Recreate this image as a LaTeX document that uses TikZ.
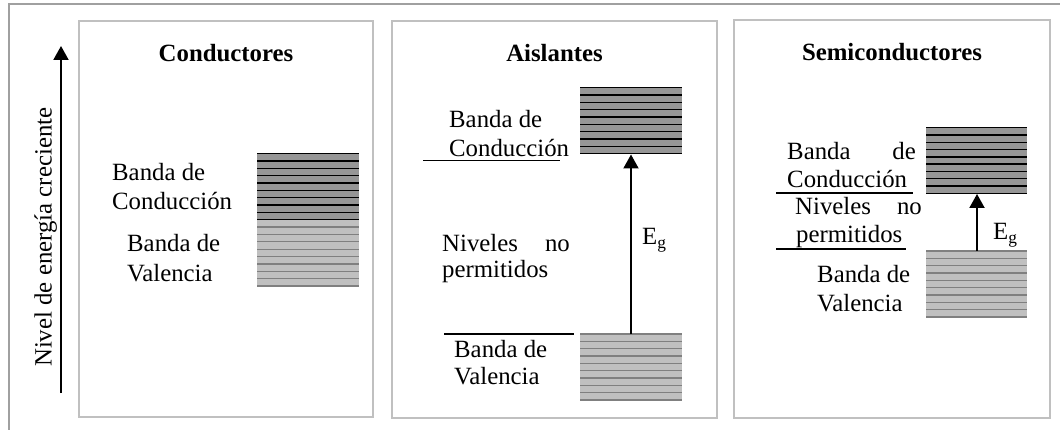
\documentclass[tikz,border=0pt]{standalone}
\usepackage{fontspec}
\setmainfont{Liberation Serif}
\usetikzlibrary{arrows.meta}
\definecolor{frameg}{HTML}{A0A0A0}
\definecolor{panelg}{HTML}{C0C0C0}
\definecolor{darkfill}{HTML}{969696}
\definecolor{lightfill}{HTML}{C0C0C0}
\definecolor{lightline}{HTML}{808080}
\tikzset{
  txt/.style={anchor=base west, inner sep=0pt, font=\fontsize{24.8}{28}\selectfont},
  txtr/.style={anchor=base east, inner sep=0pt, font=\fontsize{24.8}{28}\selectfont},
  ttl/.style={anchor=base, inner sep=0pt, font=\fontsize{24.8}{28}\selectfont\bfseries},
  panel/.style={draw=panelg, line width=1.5pt},
  uline/.style={draw=black, line width=1.3pt},
  gaparrow/.style={line width=2pt, -{Triangle[length=14pt,width=15pt]}},
}
\newcommand{\myband}[5]{% x1, x2, ytop, ybot, which (dark/light)
  \ifx d#5
    \fill[darkfill] (#1,#3) rectangle (#2,#4);
    \foreach \k in {0,...,9} \draw[black, line width=1.3pt] (#1,{#3+\k*(#4-#3)/9}) -- (#2,{#3+\k*(#4-#3)/9});
  \else
    \fill[lightfill] (#1,#3) rectangle (#2,#4);
    \foreach \k in {0,...,9} \draw[lightline, line width=1.3pt] (#1,{#3+\k*(#4-#3)/9}) -- (#2,{#3+\k*(#4-#3)/9});
  \fi
}
\begin{document}
\begin{tikzpicture}[x=1pt,y=-1pt]
\useasboundingbox (0,0) rectangle (1060,430);
% outer frame
\draw[frameg, line width=2pt] (9,432) -- (9,4.5) -- (1062,4.5);
% panels
\draw[panel] (79,21) rectangle (373,417);
\draw[panel] (392,21) rectangle (717,418);
\draw[panel] (734,20) rectangle (1050,418);
% energy axis
\coordinate (axb) at (61,393);
\coordinate (axt) at (61,46);
\draw[gaparrow] (axb) -- (axt);
\node[txt, rotate=90] (axl) at (51.7,367) {Nivel de energía creciente};

% ---------- Conductores
\node[ttl] (t1) at (226,62) {Conductores};
\myband{257}{359}{219.7}{286}{l}
\myband{257}{359}{153.7}{219.7}{d}
\coordinate (c1b) at (257,153.7);
\node[txt] (c1a) at (112,181) {Banda de};
\node[txt] (c1c) at (112,210) {Conducción};
\node[txt] (v1a) at (127,252) {Banda de};
\node[txt] (v1b) at (127,281.5) {Valencia};

% ---------- Aislantes
\node[ttl] (t2) at (554.5,62) {Aislantes};
\myband{580}{682}{87.7}{153.7}{d}
\myband{580}{682}{334}{400}{l}
\coordinate (g2b) at (631,334);
\coordinate (g2t) at (631,154.5);
\draw[gaparrow] (g2b) -- (g2t);
\node[txt] (e2) at (642,245) {E\textsubscript{g}};
\node[txt] (c2a) at (449,128) {Banda de};
\node[txt] (c2b) at (449,157) {Conducción};
\coordinate (u2a) at (423,160.7);
\coordinate (u2b) at (560,160.7);
\draw[uline] (u2a) -- (u2b);
\node[txt] (n2a) at (442,252) {Niveles};
\node[txtr] (n2b) at (570,252) {no};
\node[txt] (n2c) at (442,278) {permitidos};
\coordinate (u2c) at (444,334);
\coordinate (u2d) at (574,334);
\draw[uline] (u2c) -- (u2d);
\node[txt] (v2a) at (454,357) {Banda de};
\node[txt] (v2b) at (454,384) {Valencia};

% ---------- Semiconductores
\node[ttl] (t3) at (892,61) {Semiconductores};
\myband{926}{1027}{127.7}{193.3}{d}
\myband{926}{1027}{251}{317}{l}
\coordinate (g3b) at (977,251);
\coordinate (g3t) at (977,194);
\draw[gaparrow] (g3b) -- (g3t);
\node[txt] (e3) at (993,240) {E\textsubscript{g}};
\node[txt] (c3a) at (787,160) {Banda};
\node[txtr] (c3b) at (916,160) {de};
\node[txt] (c3c) at (787,188) {Conducción};
\coordinate (u3a) at (776,193);
\coordinate (u3b) at (913,193);
\draw[uline] (u3a) -- (u3b);
\node[txt] (n3a) at (795,215) {Niveles};
\node[txtr] (n3b) at (922,215) {no};
\node[txt] (n3c) at (796,243) {permitidos};
\coordinate (u3c) at (776,249);
\coordinate (u3d) at (906,249);
\draw[uline] (u3c) -- (u3d);
\node[txt] (v3a) at (817,283) {Banda de};
\node[txt] (v3b) at (817,312) {Valencia};
\end{tikzpicture}
\end{document}
